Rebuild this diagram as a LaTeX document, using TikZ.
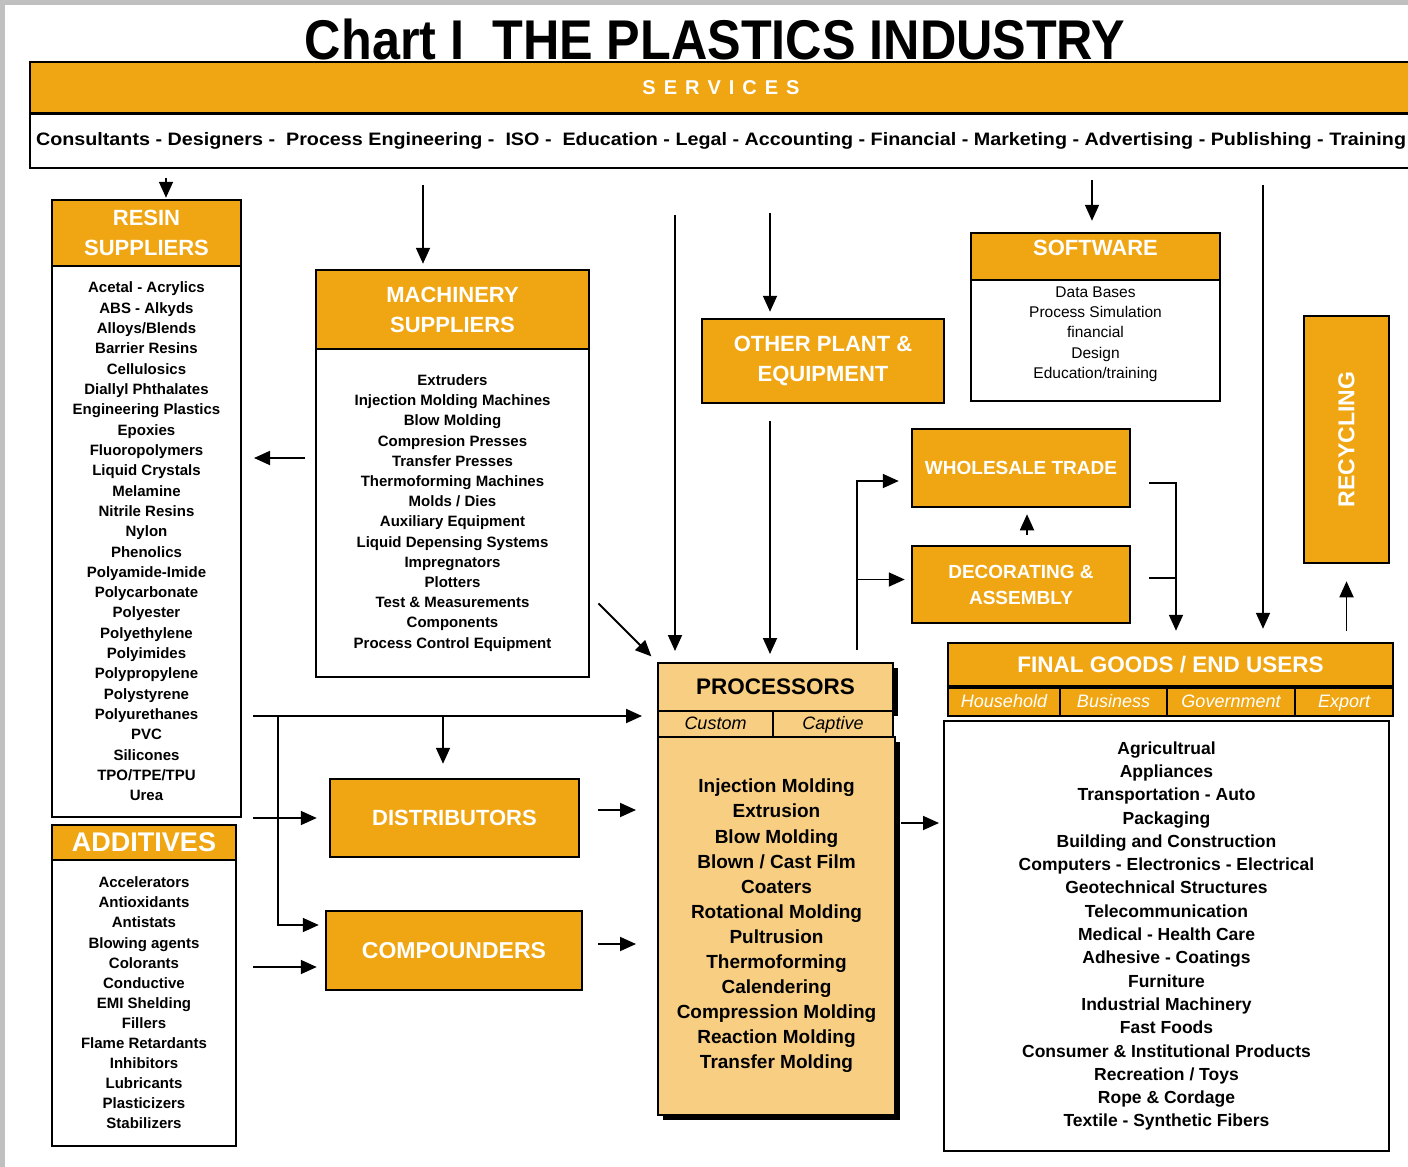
\documentclass[tikz,border=0pt]{standalone}
\usepackage{fontspec}
\setmainfont{Liberation Sans}
\usetikzlibrary{arrows.meta,shadows}
\definecolor{amber}{RGB}{240,166,18}
\definecolor{pale}{RGB}{248,206,130}
\definecolor{frame}{RGB}{192,192,192}

\begin{document}
\begin{tikzpicture}[
    x=1pt, y=-1pt,
    hdr/.style={rectangle, draw=black, line width=2.5pt, fill=amber, text=white, align=center, inner sep=0pt,
        font=\bfseries\fontsize{22}{30}\selectfont},
    lst/.style={rectangle, draw=black, line width=2pt, fill=white, align=center, inner sep=0pt,
        font=\bfseries\fontsize{15}{20.2}\selectfont},
    proc/.style={rectangle, draw=black, line width=2pt, fill=pale, align=center, inner sep=0pt},
    cell/.style={hdr, line width=2pt, text height=14pt, text depth=3pt, font=\itshape\fontsize{18}{20}\selectfont},
    shade/.style={drop shadow={shadow xshift=5pt, shadow yshift=-5pt, fill=black, opacity=1}},
    arrow/.style={-{Triangle[length=16pt,width=14pt]}, line width=1.8pt, black},
    wire/.style={line width=1.8pt, black}
]
\useasboundingbox (0,0) rectangle (1408,1167);
\fill[frame] (0,0) rectangle (1408,1167);
\fill[white] (5,5) rectangle (1408,1167);

\node[font=\bfseries\fontsize{56}{60}\selectfont] (title) at (715,39)
    {\resizebox{820pt}{\height}{Chart I\ \ THE PLASTICS INDUSTRY}};

% services band across the top
\node[hdr, minimum width=1382pt, minimum height=51pt, font=\bfseries\fontsize{20}{22}\selectfont] (servH) at (721,87.5)
    {{\spaceskip=8pt S E R V I C E S}};
\node[lst, line width=2.5pt, minimum width=1382pt, minimum height=54pt, font=\bfseries\fontsize{18}{20}\selectfont] (servL) at (721,141)
    {\resizebox{1370pt}{\height}{Consultants - Designers -\ \ Process Engineering -\ \ ISO -\ \ Education - Legal - Accounting - Financial - Marketing - Advertising - Publishing - Training}};

% suppliers on the left
\node[hdr, minimum width=189pt, minimum height=66pt] (resinH) at (146.5,233) {RESIN\\SUPPLIERS};
\node[lst, minimum width=189pt, minimum height=551pt, font=\bfseries\fontsize{15}{20.32}\selectfont] (resinL) at (146.5,541.5)
    {Acetal - Acrylics\\ABS - Alkyds\\Alloys/Blends\\Barrier Resins\\Cellulosics\\Diallyl Phthalates\\Engineering Plastics\\Epoxies\\
     Fluoropolymers\\Liquid Crystals\\Melamine\\Nitrile Resins\\Nylon\\Phenolics\\Polyamide-Imide\\Polycarbonate\\Polyester\\
     Polyethylene\\Polyimides\\Polypropylene\\Polystyrene\\Polyurethanes\\PVC\\Silicones\\TPO/TPE/TPU\\Urea};

\node[hdr, minimum width=184pt, minimum height=35pt, font=\bfseries\fontsize{27}{30}\selectfont] (addH) at (144,842.5) {ADDITIVES};
\node[lst, minimum width=184pt, minimum height=286pt, font=\bfseries\fontsize{15}{20.1}\selectfont] (addL) at (144,1003)
    {Accelerators\\Antioxidants\\Antistats\\Blowing agents\\Colorants\\Conductive\\EMI Shelding\\Fillers\\Flame Retardants\\
     Inhibitors\\Lubricants\\Plasticizers\\Stabilizers};

\node[hdr, minimum width=273pt, minimum height=79pt] (machH) at (452.5,309.5) {MACHINERY\\SUPPLIERS};
\node[lst, minimum width=273pt, minimum height=328pt] (machL) at (452.5,513)
    {Extruders\\Injection Molding Machines\\Blow Molding\\Compresion Presses\\Transfer Presses\\Thermoforming Machines\\
     Molds / Dies\\Auxiliary Equipment\\Liquid Depensing Systems\\Impregnators\\Plotters\\Test \& Measurements\\
     Components\\Process Control Equipment};

\node[hdr, minimum width=249pt, minimum height=78pt, font=\bfseries\fontsize{22}{24}\selectfont] (dist) at (454.5,818) {DISTRIBUTORS};
\node[hdr, minimum width=256pt, minimum height=79pt, font=\bfseries\fontsize{23}{26}\selectfont] (comp) at (454,950.5) {COMPOUNDERS};

% processors in the middle
\node[proc, shade, minimum width=235pt, minimum height=48pt, font=\bfseries\fontsize{22.5}{26}\selectfont] (procT) at (775.5,687) {PROCESSORS};
\node[proc, minimum width=115pt, minimum height=26pt, text height=14pt, text depth=3pt, font=\itshape\fontsize{18}{20}\selectfont] (procC) at (715.5,724) {Custom};
\node[proc, minimum width=120pt, minimum height=26pt, text height=14pt, text depth=3pt, font=\itshape\fontsize{18}{20}\selectfont] (procK) at (833,724) {Captive};
\node[proc, shade, minimum width=237pt, minimum height=378pt, font=\bfseries\fontsize{19}{25.1}\selectfont] (procB) at (776.5,926)
    {Injection Molding\\Extrusion\\Blow Molding\\Blown / Cast Film\\Coaters\\Rotational Molding\\Pultrusion\\Thermoforming\\
     Calendering\\Compression Molding\\Reaction Molding\\Transfer Molding};

\node[hdr, minimum width=242pt, minimum height=84pt] (plant) at (823,361) {OTHER PLANT \&\\EQUIPMENT};

% software, trade and recycling on the right
\node[hdr, minimum width=249pt, minimum height=47pt, text height=16pt, text depth=19pt] (softH) at (1095.5,256.5) {SOFTWARE};
\node[lst, minimum width=249pt, minimum height=121pt, text depth=16pt, font=\fontsize{15.5}{20.25}\selectfont] (softL) at (1095.5,340.5)
    {Data Bases\\Process Simulation\\financial\\Design\\Education/training};

\node[hdr, minimum width=218pt, minimum height=78pt, font=\bfseries\fontsize{19}{26}\selectfont] (whole) at (1021,468) {WHOLESALE TRADE};
\node[hdr, minimum width=218pt, minimum height=77pt, font=\bfseries\fontsize{19}{26}\selectfont] (deco) at (1021,584.5) {DECORATING \&\\ASSEMBLY};

\node[hdr, rotate=90, minimum width=247pt, minimum height=85pt, font=\bfseries\fontsize{23}{26}\selectfont] (recycle) at (1346.5,439.5) {RECYCLING};

\node[hdr, minimum width=445pt, minimum height=43pt, font=\bfseries\fontsize{22.5}{26}\selectfont] (finalH) at (1170.5,664.5) {FINAL GOODS / END USERS};
\node[cell, minimum width=112pt, minimum height=28pt] (house) at (1004,702) {Household};
\node[cell, minimum width=107pt, minimum height=28pt] (biz) at (1113.5,702) {Business};
\node[cell, minimum width=128pt, minimum height=28pt] (gov) at (1231,702) {Government};
\node[cell, minimum width=98pt, minimum height=28pt] (export) at (1344,702) {Export};
\node[lst, minimum width=445pt, minimum height=430pt, font=\bfseries\fontsize{17.5}{23.3}\selectfont] (finalL) at (1166.5,936)
    {Agricultrual\\Appliances\\Transportation - Auto\\Packaging\\Building and Construction\\Computers - Electronics - Electrical\\
     Geotechnical Structures\\Telecommunication\\Medical - Health Care\\Adhesive - Coatings\\Furniture\\Industrial Machinery\\
     Fast Foods\\Consumer \& Institutional Products\\Recreation / Toys\\Rope \& Cordage\\Textile - Synthetic Fibers};

% free ends and junctions
\coordinate (tResin) at (166,178);
\coordinate (tMach) at (423,185);
\coordinate (tProc) at (675,215);
\coordinate (tPlant) at (770,213);
\coordinate (tSoft) at (1092,180);
\coordinate (tFinal) at (1263,185);
\coordinate (bus) at (241,716);
\coordinate (tap) at (278,716);
\coordinate (drop) at (443,716);
\coordinate (rise) at (857,650);
\coordinate (merge) at (1176,483);

\draw[arrow, shorten >=1pt] (tResin) -- (tResin |- resinH.north);
\draw[arrow, shorten >=5pt] (tMach) -- (tMach |- machH.north);
\draw[arrow, shorten >=11pt] (tProc) -- (tProc |- procT.north);
\draw[arrow, shorten >=6pt] (tPlant) -- (tPlant |- plant.north);
\draw[arrow, shorten <=17pt, shorten >=8pt] (tPlant |- plant.south) -- (tPlant |- procT.north);
\draw[arrow, shorten >=11pt] (tSoft) -- (tSoft |- softH.north);
\draw[arrow, shorten >=13pt] (tFinal) -- (tFinal |- finalH.north);

\draw[arrow, shorten <=10pt, shorten >=12pt] ([yshift=55pt]machL.west) -- ([yshift=55pt]machL.west -| resinL.east);
\draw[arrow, shorten <=12pt, shorten >=8pt] ([yshift=-82pt]machL.east) -- (procT.north west);

\draw[arrow, shorten <=12pt, shorten >=15pt] (bus) -- (bus -| procC.west);
\draw[arrow, shorten >=6pt] (tap) |- ([yshift=25.5pt]comp.west);
\draw[arrow, shorten >=14pt] (drop) -- (drop |- dist.north);
\draw[arrow, shorten <=11pt, shorten >=12pt] (resinL.south east) -- (resinL.south east -| dist.west);
\draw[arrow, shorten <=16pt, shorten >=8pt] ([yshift=36pt]addL.east) -- ([yshift=36pt]addL.east -| comp.west);

\draw[arrow, shorten <=18pt, shorten >=21pt] ([yshift=8pt]dist.east) -- ([yshift=8pt]dist.east -| procB.west);
\draw[arrow, shorten <=15pt, shorten >=21pt] ([yshift=6.5pt]comp.east) -- ([yshift=6.5pt]comp.east -| procB.west);
\draw[arrow, shorten <=5pt, shorten >=4pt] ([yshift=103pt]procB.east) -- ([yshift=103pt]procB.east -| finalL.west);

\draw[arrow, shorten >=12pt] (rise) |- ([yshift=-13pt]whole.west);
\draw[arrow, shorten >=6pt] ([yshift=5pt]deco.west -| rise) -- ([yshift=5pt]deco.west);
\draw[arrow, shorten <=10pt, shorten >=6pt] ([xshift=6pt]deco.north) -- ([xshift=6pt]whole.south);
\draw[arrow, shorten <=18pt, shorten >=11pt] (whole.east |- merge) -- (merge) -- (merge |- finalH.north);
\draw[wire, shorten <=18pt] ([yshift=6.5pt]deco.east) -- ([yshift=6.5pt]deco.east -| merge);
\draw[arrow, shorten <=11pt, shorten >=17pt] (finalH.north -| recycle.west) -- (recycle.west);
\end{tikzpicture}
\end{document}
